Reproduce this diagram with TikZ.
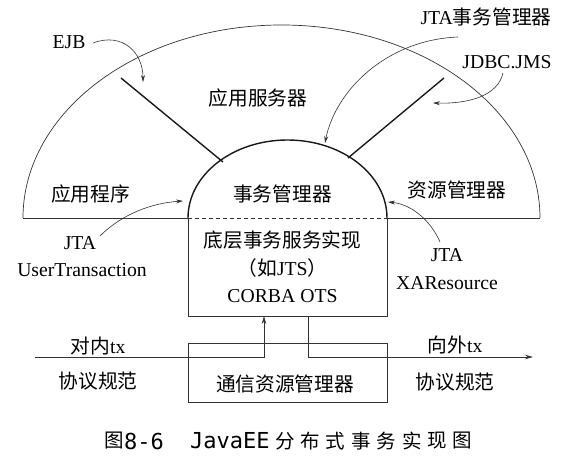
\documentclass[tikz,border=0pt]{standalone}
\usepackage{fontspec}
\setmainfont{Liberation Serif}
\newfontfamily\cjk{Noto Sans CJK SC}
\newfontfamily\capmono{DejaVu Sans Mono}
\usetikzlibrary{arrows.meta}
\begin{document}
\begin{tikzpicture}[x=1pt,y=-1pt,
  thinline/.style={line width=0.7pt,draw=black!80},
  thickline/.style={line width=1.4pt,draw=black!90},
  callout/.style={line width=0.6pt,draw=black!80,-{Stealth[length=7pt,width=4pt]}},
  lbl/.style={inner sep=0pt,font=\fontsize{19.7}{19.7}\selectfont},
  captxt/.style={inner sep=0pt,font=\fontsize{19.5}{19.5}\selectfont},
  capmonotxt/.style={inner sep=0pt,font=\fontsize{22}{22}\selectfont\capmono}]
\useasboundingbox (0,0) rectangle (570,468);
% outer half-ellipse
\draw[thinline] (23,218) arc[start angle=180,end angle=0,x radius=258.5pt,y radius=193pt];
\draw[thinline] (23,218) -- (188,218);
\draw[thinline] (387,218) -- (540,218);
% inner arc
\draw[thickline] (188,218) arc[start angle=180,end angle=0,x radius=99.5pt,y radius=78pt];
\draw[thinline,dash pattern=on 4pt off 3pt] (188,218) -- (387,218);
% spokes
\coordinate (s1a) at (121,78); \coordinate (s1b) at (223,162);
\coordinate (s2a) at (444,78); \coordinate (s2b) at (348,158);
\draw[thickline] (s1a) -- (s1b);
\draw[thickline] (s2a) -- (s2b);
% box below
\draw[thinline] (188,218) -- (188,316) -- (387,316) -- (387,218);
% lower box
\draw[thinline] (188,343) rectangle (387,402);
% in / out lines
\coordinate (inL) at (35,357); \coordinate (inC) at (264,357); \coordinate (inT) at (264,316);
\coordinate (outT) at (308,316); \coordinate (outC) at (308,357); \coordinate (outR) at (533,357);
\draw[thinline,-{Stealth[length=8pt,width=4.5pt]}] (inL) -- (inC) -- (inT);
\draw[thinline,-{Stealth[length=8pt,width=4.5pt]}] (outT) -- (outC) -- (outR);
% labels
\node[lbl] (ejb) at (69,42) {EJB};
\node[lbl] (jtatm) at (486,17) {JTA{\cjk 事务管理器}};
\node[lbl] (jdbc) at (507,62) {JDBC.JMS};
\node[lbl] (appsrv) at (258,98) {\cjk 应用服务器};
\node[lbl] (app) at (90.5,194) {\cjk 应用程序};
\node[lbl] (tm) at (282.5,194) {\cjk 事务管理器};
\node[lbl] (rm) at (457,190) {\cjk 资源管理器};
\node[lbl] (impl) at (282.5,240) {\cjk 底层事务服务实现};
\node[lbl] (jts) at (282.5,268) {{\cjk （如}JTS{\cjk ）}};
\node[lbl] (corba) at (282.5,296) {CORBA OTS};
\node[lbl] (jta1) at (80,243) {JTA};
\node[lbl] (ut) at (82,270) {UserTransaction};
\node[lbl] (jta2) at (447,255) {JTA};
\node[lbl] (xa) at (447,283) {XAResource};
\node[lbl] (intx) at (98,346) {{\cjk 对内}tx};
\node[lbl] (proto1) at (98,381) {\cjk 协议规范};
\node[lbl] (crm) at (285,384) {\cjk 通信资源管理器};
\node[lbl] (outtx) at (455,345) {{\cjk 向外}tx};
\node[lbl] (proto2) at (455,382) {\cjk 协议规范};
% callout arrows
\coordinate (e0) at (93,43); \coordinate (e1) at (143,82);
\draw[callout] (e0) .. controls (122,32) and (143,52) .. (e1);
\coordinate (t0) at (458,37); \coordinate (t1) at (325,143);
\draw[callout] (t0) .. controls (385,40) and (335,92) .. (t1);
\coordinate (j0) at (503,73); \coordinate (j1) at (433,103);
\draw[callout] (j0) .. controls (498,96) and (468,104) .. (j1);
\coordinate (u0) at (100,236); \coordinate (u1) at (183,201);
\draw[callout] (u0) .. controls (122,214) and (152,203) .. (u1);
\coordinate (x0) at (440,242); \coordinate (x1) at (388,202);
\draw[callout] (x0) .. controls (430,219) and (410,204) .. (x1);
% caption
\node[captxt,anchor=west] (c0) at (104,441) {\cjk 图};
\node[capmonotxt,anchor=west] (c1) at (124,441) {8-6};
\node[capmonotxt,anchor=west] (c2) at (190,441) {JavaEE};
\foreach \ch [count=\i from 0] in {分,布,式,事,务,实,现,图}
  \node[captxt] (z\i) at (285+25.36*\i,441) {\cjk\ch};
\end{tikzpicture}
\end{document}
